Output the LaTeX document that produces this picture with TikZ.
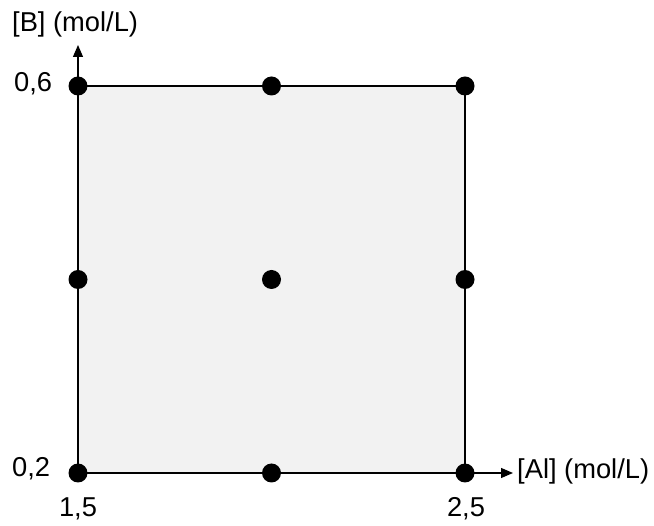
\documentclass[tikz,border=0pt]{standalone}
\usepackage{fontspec}
\setmainfont{Liberation Sans}
\usetikzlibrary{arrows.meta}
\definecolor{regionfill}{HTML}{F2F2F2}
\tikzset{
  pt/.style={circle, fill=black, inner sep=0pt, minimum size=19pt},
  axis/.style={line width=1.2pt, -{Triangle[length=12pt,width=10pt]}},
  edge/.style={line width=1.2pt},
  lbl/.style={inner sep=0pt, font=\fontsize{27.3}{31}\selectfont}
}
\begin{document}
\begin{tikzpicture}[x=1pt,y=-1pt]
\useasboundingbox (0,0) rectangle (654,526);
% corner and point coordinates
\coordinate (LB) at (78,473);
\coordinate (RB) at (465,473);
\coordinate (LT) at (78,86);
\coordinate (RT) at (465,86);
\coordinate (ytip) at (78,45);
\coordinate (xtip) at (513,473);
% region
\fill[regionfill] (LB) rectangle (RT);
\draw[edge] (LT) -- (RT) -- (RB);
% axes
\draw[axis] (LB) -- (ytip);
\draw[axis] (LB) -- (xtip);
% design points
\node[pt] (p1) at (LB) {};
\node[pt] (p2) at (271.5,473) {};
\node[pt] (p3) at (RB) {};
\node[pt] (p4) at (78,279.5) {};
\node[pt] (p5) at (271.5,279.5) {};
\node[pt] (p6) at (465,279.5) {};
\node[pt] (p7) at (LT) {};
\node[pt] (p8) at (271.5,86) {};
\node[pt] (p9) at (RT) {};
% labels
\node[lbl, anchor=base west] (ylab) at (12,31.5) {[B] (mol/L)};
\node[lbl, anchor=base west] (xlab) at (517,479) {[Al] (mol/L)};
\node[lbl, anchor=base west] (y06) at (14,92) {0,6};
\node[lbl, anchor=base west] (y02) at (12,477) {0,2};
\node[lbl, anchor=base] (x15) at (78,517) {1,5};
\node[lbl, anchor=base] (x25) at (466,517) {2,5};
\end{tikzpicture}
\end{document}
